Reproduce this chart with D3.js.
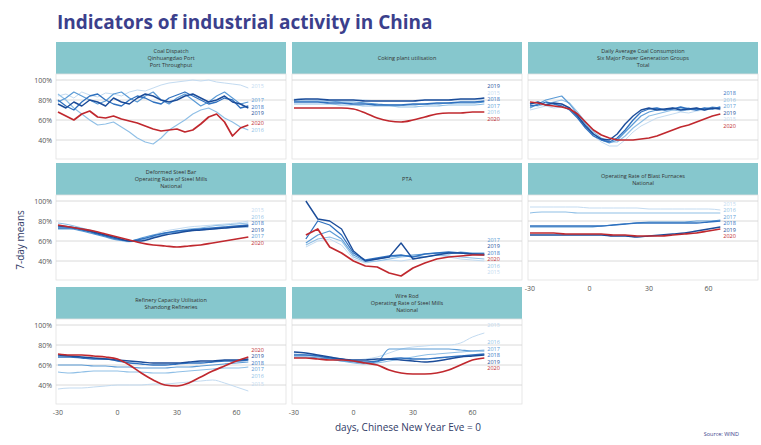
<!DOCTYPE html>
<html>
<head>
<meta charset="utf-8">
<script src="https://cdn.jsdelivr.net/npm/d3@7"></script>
<style>
  body { margin: 0; background: #fff; }
  text { font-family: "Open Sans", "DejaVu Sans", sans-serif; }
</style>
</head>
<body>
<script>
// years: 2015-2019 in blues, 2020 in red
var years = [2015, 2016, 2017, 2018, 2019, 2020];
var yearColors = ["#c3dbf1", "#8fbfe6", "#5b9bd6", "#2f71bf", "#1b4c99", "#c0282e"];
var yearWidths = [1, 1.1, 1.2, 1.3, 1.4, 1.7];

var daysFine = [-30,-26,-22,-18,-14,-10,-6,-2,2,6,10,14,18,22,26,30,34,38,42,46,50,54,58,62,66];
var daysCoarse = [-30,-24,-18,-12,-6,0,6,12,18,24,30,36,42,48,54,60,66];
var daysPta = [-24,-18,-12,-6,0,6,12,18,24,30,36,42,48,54,60,66];

// values in %, one row per year (2015..2020)
var coalPort = [
  [84,86,82,88,85,83,87,86,84,88,90,89,92,95,97,98,99,100,99,100,98,97,96,95,92],
  [86,80,72,66,60,55,56,58,53,48,42,38,36,42,50,55,60,66,70,72,68,62,58,53,50],
  [78,82,88,84,80,76,79,86,88,82,78,84,88,80,76,82,86,80,74,78,84,88,82,76,78],
  [80,74,70,78,84,86,80,76,74,80,84,82,78,76,82,85,88,84,80,76,78,82,80,72,74],
  [76,72,78,74,80,78,74,82,78,76,82,86,84,80,78,80,84,86,82,78,80,84,78,76,72],
  [68,64,60,66,69,63,62,64,61,59,57,54,51,49,50,51,48,50,56,63,66,58,44,52,55]
];
var coking = [
  [81,81,80,80,80,80,80,79,79,79,79,80,80,80,80,80,81],
  [76,76,76,76,75,75,74,74,74,73,73,74,74,75,75,75,76],
  [79,79,79,79,78,78,77,76,75,75,75,76,76,77,77,77,78],
  [78,78,78,77,77,76,76,75,75,75,76,76,77,77,78,78,79],
  [80,81,81,80,80,80,79,79,79,79,79,80,80,80,81,81,82],
  [72,72,72,72,72,71,67,62,59,58,60,63,66,67,67,68,68]
];
var coalPower = [
  [70,72,74,72,73,72,64,54,44,38,34,34,40,48,54,58,62,64,66,68,67,69,70,72,70],
  [75,74,76,78,80,77,68,58,48,42,38,38,44,52,58,64,66,68,70,69,70,72,70,71,72],
  [72,76,80,82,84,76,66,56,46,40,37,40,48,56,64,68,70,70,72,71,72,70,71,73,72],
  [74,75,78,76,74,70,62,52,44,40,38,42,50,60,68,71,72,70,71,73,71,70,72,71,73],
  [76,78,75,77,76,72,64,54,46,41,40,46,56,64,70,72,70,71,72,70,71,72,70,72,71],
  [78,77,75,74,73,71,66,58,50,45,42,40,40,40,41,42,44,47,50,53,55,58,61,64,66]
];
var steelBar = [
  [74,74,72,69,65,61,59,62,66,70,72,74,75,76,77,78,80],
  [78,76,73,70,66,62,60,61,64,67,70,72,73,75,76,77,78],
  [72,72,70,67,64,61,60,63,66,68,69,70,71,72,73,74,74],
  [73,73,71,68,65,62,60,62,65,68,70,71,72,73,74,75,76],
  [75,74,72,69,66,63,60,60,63,66,68,70,71,72,73,74,75],
  [76,74,72,70,67,64,61,58,56,55,54,55,56,58,60,62,64]
];
var pta = [
  [54,60,62,56,42,38,40,41,40,42,44,46,44,42,41,40],
  [56,62,64,60,44,39,40,42,44,45,44,46,45,44,43,42],
  [58,66,70,62,46,40,42,44,45,46,47,48,47,49,48,48],
  [62,80,76,66,48,41,43,45,46,44,47,48,49,48,47,46],
  [100,82,80,72,50,40,42,44,58,42,44,46,48,48,47,47],
  [66,72,54,48,40,35,34,28,25,33,38,42,44,45,46,46]
];
var blastFurnace = [
  [94,94,94,94,94,93,93,93,93,93,92,92,92,92,92,92,91],
  [88,89,89,89,88,88,88,88,88,88,88,88,88,88,88,88,88],
  [74,74,74,74,74,74,75,76,77,78,79,79,79,79,80,80,81],
  [75,75,75,75,75,75,75,76,77,78,78,78,78,78,78,79,80],
  [66,66,66,66,66,66,66,65,65,64,65,66,67,68,70,72,74],
  [68,68,68,67,67,67,67,66,66,65,65,65,66,67,68,70,72]
];
var refinery = [
  [36,37,37,38,39,40,40,40,41,41,42,43,44,45,42,38,34],
  [53,52,53,54,54,54,53,53,52,52,53,54,55,56,57,57,58],
  [60,60,60,59,59,58,58,57,57,57,58,58,59,60,61,62,63],
  [68,68,67,66,66,64,62,61,60,60,61,62,62,63,64,64,65],
  [70,69,68,67,66,65,64,63,62,62,62,63,64,64,65,65,66],
  [71,70,70,69,68,66,60,52,45,40,39,42,48,54,59,64,68]
];
var wireRod = [
  [69,69,68,67,66,65,66,68,72,76,78,79,80,80,82,88,92],
  [71,70,68,66,64,62,61,62,64,66,68,70,71,72,73,74,75],
  [68,68,67,66,64,63,62,63,76,76,76,76,76,76,75,74,74],
  [70,70,69,67,66,64,63,64,66,67,66,66,67,68,69,70,71],
  [73,72,70,68,66,65,65,66,66,65,64,63,64,66,68,69,70],
  [67,67,66,65,65,64,62,60,55,52,51,51,52,55,60,65,67]
];

var panelTitles = [
  ["Coal Dispatch", "Qinhuangdao Port", "Port Throughput"],
  ["Coking plant utilisation"],
  ["Daily Average Coal Consumption", "Six Major Power Generation Groups", "Total"],
  ["Deformed Steel Bar", "Operating Rate of Steel Mills", "National"],
  ["PTA"],
  ["Operating Rate of Blast Furnaces", "National"],
  ["Refinery Capacity Utilisation", "Shandong Refineries"],
  ["Wire Rod", "Operating Rate of Steel Mills", "National"]
];
var panelValues = [coalPort, coking, coalPower, steelBar, pta, blastFurnace, refinery, wireRod];
var panelDays = [daysFine, daysCoarse, daysFine, daysCoarse, daysPta, daysCoarse, daysCoarse, daysCoarse];
var jagged = [true, false, true, false, true, false, false, false];

var xTicks = [-30, 0, 30, 60];
var yTicks = [0.4, 0.6, 0.8, 1.0];

var W = 761, H = 445;
var colLeft = [56, 292, 528], panelW = 230;
var rowTop = [42, 163, 287], stripH = 32, plotH = 85;

var svg = d3.select("body").append("svg")
    .attr("width", W)
    .attr("height", H);

svg.append("text")
    .attr("x", 57).attr("y", 29)
    .attr("font-size", 19).attr("font-weight", "bold")
    .attr("fill", "#3b3f8c")
    .text("Indicators of industrial activity in China");

var x = d3.scaleLinear().domain([-31, 85]).range([0, panelW]);
var y = d3.scaleLinear().domain([0.21, 1.06]).range([plotH, 0]);

panelValues.forEach(function(vals, i) {
    var col = i % 3, row = Math.floor(i / 3);
    var g = svg.append("g")
        .attr("transform", "translate(" + colLeft[col] + "," + rowTop[row] + ")");

    // strip
    g.append("rect")
        .attr("width", panelW).attr("height", stripH)
        .attr("fill", "#86c7cd");
    var lines = panelTitles[i];
    var st = g.append("text")
        .attr("text-anchor", "middle")
        .attr("font-size", 5.5)
        .attr("fill", "#333");
    lines.forEach(function(l, k) {
        st.append("tspan")
            .attr("x", panelW / 2)
            .attr("y", stripH / 2 + (k - (lines.length - 1) / 2) * 7 + 2)
            .text(l);
    });

    var p = g.append("g").attr("transform", "translate(0," + stripH + ")");
    p.append("rect")
        .attr("width", panelW).attr("height", plotH)
        .attr("fill", "#fff").attr("stroke", "#e2e2e2").attr("stroke-width", 0.8);

    p.selectAll(".grid").data(yTicks).enter().append("line")
        .attr("x1", 0).attr("x2", panelW)
        .attr("y1", function(d) { return y(d); })
        .attr("y2", function(d) { return y(d); })
        .attr("stroke", "#d6d6d6").attr("stroke-width", 0.9);

    if (col === 0) {
        p.selectAll(".yl").data(yTicks).enter().append("text")
            .attr("x", -4).attr("y", function(d) { return y(d) + 2.5; })
            .attr("text-anchor", "end")
            .attr("font-size", 7).attr("fill", "#555")
            .text(d3.format(".0%"));
    }
    if (row === 2 || i === 5) {
        p.selectAll(".xl").data(xTicks).enter().append("text")
            .attr("x", function(d) { return x(d); })
            .attr("y", plotH + 11)
            .attr("text-anchor", "middle")
            .attr("font-size", 7).attr("fill", "#555")
            .text(function(d) { return d; });
    }

    var days = panelDays[i];
    var series = years.map(function(yr, j) {
        return { year: yr, j: j, pts: days.map(function(d, k) { return [d, vals[j][k] / 100]; }) };
    });

    var line = d3.line()
        .x(function(d) { return x(d[0]); })
        .y(function(d) { return y(d[1]); })
        .curve(jagged[i] ? d3.curveLinear : d3.curveMonotoneX);

    p.selectAll(".s").data(series).enter().append("path")
        .attr("d", function(d) { return line(d.pts); })
        .attr("fill", "none")
        .attr("stroke", function(d) { return yearColors[d.j]; })
        .attr("stroke-width", function(d) { return yearWidths[d.j]; })
        .attr("stroke-linejoin", "round");

    // end labels, dodged so they do not overlap
    var gap = 6.5;
    var labs = series.map(function(s) {
        var last = s.pts[s.pts.length - 1];
        return { year: s.year, j: s.j, x: x(last[0]) + 3, y0: y(last[1]), y: y(last[1]) };
    }).sort(function(a, b) { return a.y0 - b.y0; });
    for (var k = 1; k < labs.length; k++) {
        if (labs[k].y - labs[k - 1].y < gap) labs[k].y = labs[k - 1].y + gap;
    }
    var shift = (d3.mean(labs, function(d) { return d.y0; }) - d3.mean(labs, function(d) { return d.y; }));
    labs.forEach(function(d) { d.y += shift; });

    p.selectAll(".lab").data(labs).enter().append("text")
        .attr("x", function(d) { return d.x; })
        .attr("y", function(d) { return d.y + 2; })
        .attr("font-size", 5.5)
        .attr("fill", function(d) { return yearColors[d.j]; })
        .text(function(d) { return d.year; });
});

svg.append("text")
    .attr("transform", "translate(24,240) rotate(-90)")
    .attr("text-anchor", "middle")
    .attr("font-size", 10).attr("fill", "#2f3a66")
    .text("7-day means");

svg.append("text")
    .attr("x", 408).attr("y", 431)
    .attr("text-anchor", "middle")
    .attr("font-size", 10).attr("fill", "#2f3a66")
    .text("days, Chinese New Year Eve = 0");

svg.append("text")
    .attr("x", 739).attr("y", 436)
    .attr("text-anchor", "end")
    .attr("font-size", 5.5).attr("fill", "#3b3f8c")
    .text("Source: WIND");
</script>
</body>
</html>
